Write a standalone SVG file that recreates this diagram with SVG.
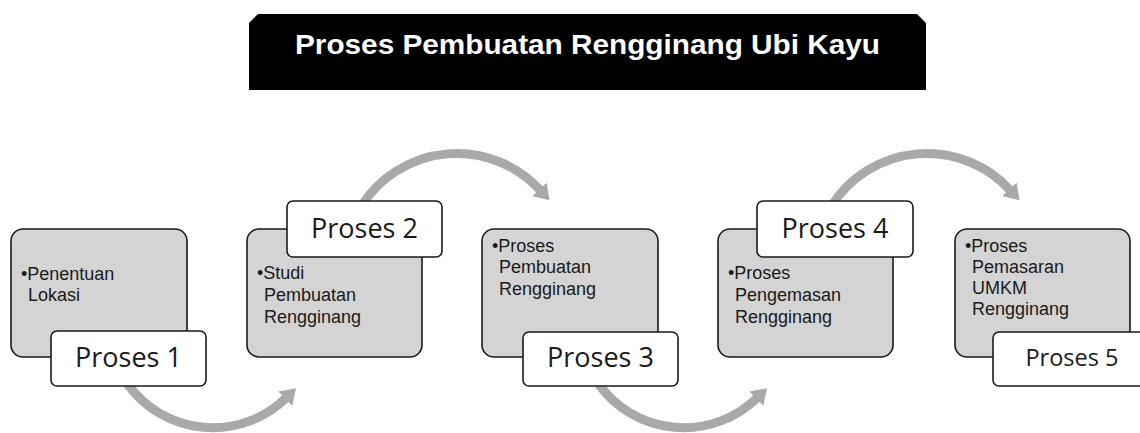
<svg xmlns="http://www.w3.org/2000/svg" width="1140" height="433" viewBox="0 0 1140 433">
<defs>
<style>
.box{fill:#d4d4d4;stroke:#1a1a1a;stroke-width:1.6}
.lbl{fill:#ffffff;stroke:#1a1a1a;stroke-width:1.6}
.bt{font-family:"Liberation Sans","Open Sans",sans-serif;font-size:18px;fill:#1a1a1a}
.lt{font-family:"Open Sans","Liberation Sans",sans-serif;font-size:27px;fill:#1a1a1a;text-anchor:middle}
.arc{fill:none;stroke:#a9a9a9;stroke-width:9;marker-end:url(#ah)}
</style>
<marker id="ah" markerUnits="userSpaceOnUse" viewBox="0 0 15 20" markerWidth="15" markerHeight="20" refX="1" refY="10" orient="auto">
<path d="M0 0 L15 10 L0 20 Z" fill="#a9a9a9"/>
</marker>
</defs>
<rect width="1140" height="433" fill="#ffffff"/>
<g id="title">
<polygon points="249,23 258,14 917,14 926,23 926,90 249,90" fill="#000000"/>
<text x="587.5" y="54" text-anchor="middle" font-family="Liberation Sans, sans-serif" font-weight="bold" font-size="28" fill="#ffffff" textLength="585" lengthAdjust="spacingAndGlyphs">Proses Pembuatan Rengginang Ubi Kayu</text>
</g>
<g id="connectors">
<path class="arc" d="M127.5 384 A105 105 0 0 0 286 398"/>
<path class="arc" d="M362 205 A113 113 0 0 1 540 190"/>
<path class="arc" d="M598.5 384 A105 105 0 0 0 757 398"/>
<path class="arc" d="M832 205 A113 113 0 0 1 1010 190"/>
</g>
<g id="node1">
<rect class="box" x="11" y="229" width="176" height="128" rx="12"/>
<text class="bt" x="21" y="280">•Penentuan</text>
<text class="bt" x="28" y="301">Lokasi</text>
<rect class="lbl" x="51" y="331" width="155" height="55" rx="6"/>
<text class="lt" x="128.5" y="367">Proses 1</text>
</g>
<g id="node2">
<rect class="box" x="247" y="229" width="175" height="128" rx="12"/>
<text class="bt" x="257" y="279">•Studi</text>
<text class="bt" x="264" y="301">Pembuatan</text>
<text class="bt" x="264" y="323">Rengginang</text>
<rect class="lbl" x="287" y="201" width="155" height="56" rx="6"/>
<text class="lt" x="364.5" y="238">Proses 2</text>
</g>
<g id="node3">
<rect class="box" x="482" y="229" width="176" height="128" rx="12"/>
<text class="bt" x="492" y="252">•Proses</text>
<text class="bt" x="499" y="273">Pembuatan</text>
<text class="bt" x="499" y="295">Rengginang</text>
<rect class="lbl" x="523" y="332" width="155" height="54" rx="6"/>
<text class="lt" x="600.5" y="367">Proses 3</text>
</g>
<g id="node4">
<rect class="box" x="718" y="229" width="175" height="128" rx="12"/>
<text class="bt" x="728" y="279">•Proses</text>
<text class="bt" x="735" y="301">Pengemasan</text>
<text class="bt" x="735" y="323">Rengginang</text>
<rect class="lbl" x="757" y="201" width="156" height="56" rx="6"/>
<text class="lt" x="835" y="238">Proses 4</text>
</g>
<g id="node5">
<rect class="box" x="955" y="229" width="175" height="128" rx="12"/>
<text class="bt" x="965" y="252">•Proses</text>
<text class="bt" x="972" y="273">Pemasaran</text>
<text class="bt" x="972" y="294">UMKM</text>
<text class="bt" x="972" y="315">Rengginang</text>
<rect class="lbl" x="993" y="332" width="156" height="54" rx="6"/>
<text class="lt" x="1072" y="366" style="font-size:23.5px">Proses 5</text>
</g>
</svg>
